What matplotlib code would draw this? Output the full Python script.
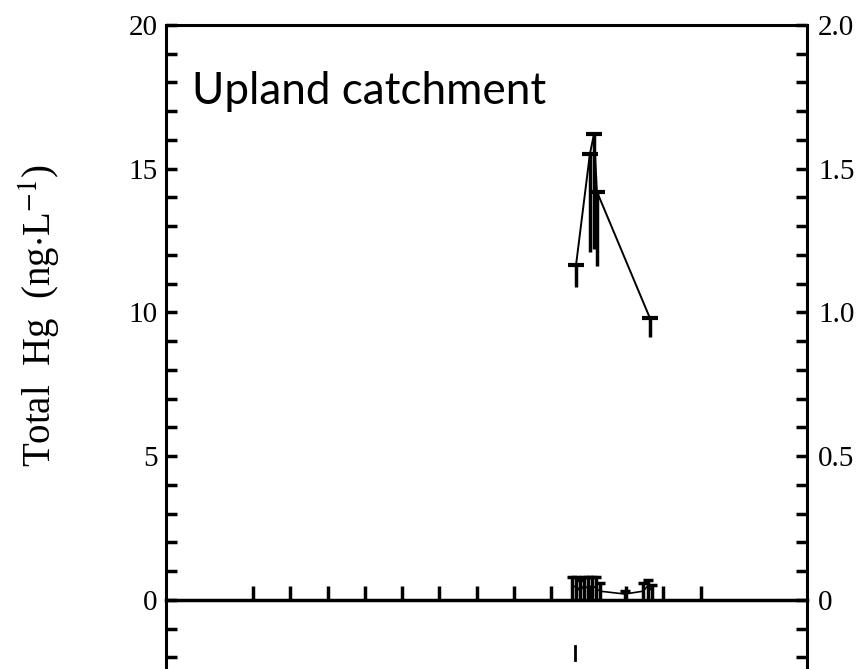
import numpy as np
import matplotlib.pyplot as plt
from matplotlib.ticker import MultipleLocator, FixedLocator, FixedFormatter

# Total Hg (left axis, ng/L) - points drawn at cap, error stem hangs below
hg_x = [8.66, 9.03, 9.14, 9.22, 10.64]
hg_y = [11.65, 15.5, 16.2, 14.2, 9.8]
hg_err = [0.75, 3.4, 4.0, 2.6, 0.65]

# small series near zero (right axis)
low_x = [8.55, 8.66, 8.77, 8.87, 8.98, 9.09, 9.20, 9.30, 9.97, 10.46, 10.59, 10.70]
low_y = [0.04, 0.05, 0.03, 0.05, 0.04, 0.05, 0.04, 0.03, 0.02, 0.03, 0.05, 0.03]
low_err = [0.04, 0.03, 0.04, 0.03, 0.04, 0.03, 0.04, 0.03, 0.01, 0.03, 0.02, 0.02]

left_ticks = [0, 5, 10, 15, 20]
left_labels = ['0', '5', '10', '15', '20']
right_ticks = [0, 0.5, 1.0, 1.5, 2.0]
right_labels = ['0', '0.5', '1.0', '1.5', '2.0']
month_ticks = list(range(0, 13))

plt.rcParams['font.family'] = ['Liberation Serif', 'DejaVu Serif']
plt.rcParams['mathtext.fontset'] = 'stix'

fig = plt.figure(figsize=(8.64, 6.69), dpi=100)
ax = fig.add_axes([166/864, 1 - 686/669, (807-166)/864, (686-25)/669])
ax.set_xlim(-2.33, 14.85)
ax.set_ylim(-3, 20)

# total Hg line + error stems
ax.plot(hg_x, hg_y, color='black', lw=1.4)
ax.vlines(hg_x, np.array(hg_y) - np.array(hg_err), hg_y, color='black', lw=2.5)
ax.plot(hg_x, hg_y, ls='none', marker='_', ms=12, mew=3, color='black')

# spines / ticks
for s in ['left', 'right', 'top']:
    ax.spines[s].set_linewidth(2.2)
ax.spines['bottom'].set_position(('data', 0))
ax.spines['bottom'].set_linewidth(2.5)
ax.xaxis.set_major_locator(FixedLocator(month_ticks))
ax.tick_params(axis='x', direction='in', length=10, width=2.5, labelbottom=False)
ax.yaxis.set_major_locator(FixedLocator(left_ticks))
ax.yaxis.set_major_formatter(FixedFormatter(left_labels))
ax.yaxis.set_minor_locator(MultipleLocator(1))
ax.tick_params(axis='y', which='both', direction='in', length=8, width=2.5,
               labelsize=21, pad=6)

# stray tick from lower panel
ax.plot([8.62, 8.62], [-1.6, -2.1], color='black', lw=2)

ax2 = ax.twinx()
ax2.set_ylim(-0.3, 2.0)
ax2.plot(low_x, low_y, color='black', lw=1.2)
ax2.vlines(low_x, 0, np.array(low_y) + np.array(low_err), color='black', lw=2.5)
ax2.plot(low_x, np.array(low_y) + np.array(low_err), ls='none', marker='_',
         ms=7, mew=2.5, color='black')
ax2.yaxis.set_major_locator(FixedLocator(right_ticks))
ax2.yaxis.set_major_formatter(FixedFormatter(right_labels))
ax2.yaxis.set_minor_locator(MultipleLocator(0.1))
ax2.tick_params(axis='y', which='both', direction='in', length=8, width=2.5,
                labelsize=21, pad=8)
for s in ax2.spines.values():
    s.set_visible(False)

ax.text(0.04, 0.880, 'Upland catchment', transform=ax.transAxes,
        fontsize=31.7, family='Lato', va='baseline')

fig.text(40/864, 1 - 316/669, r'Total  Hg  (ng$\cdot$L$^{-1}$)', rotation=90,
         ha='center', va='center', fontsize=28)

plt.savefig('out.png', dpi=100)
